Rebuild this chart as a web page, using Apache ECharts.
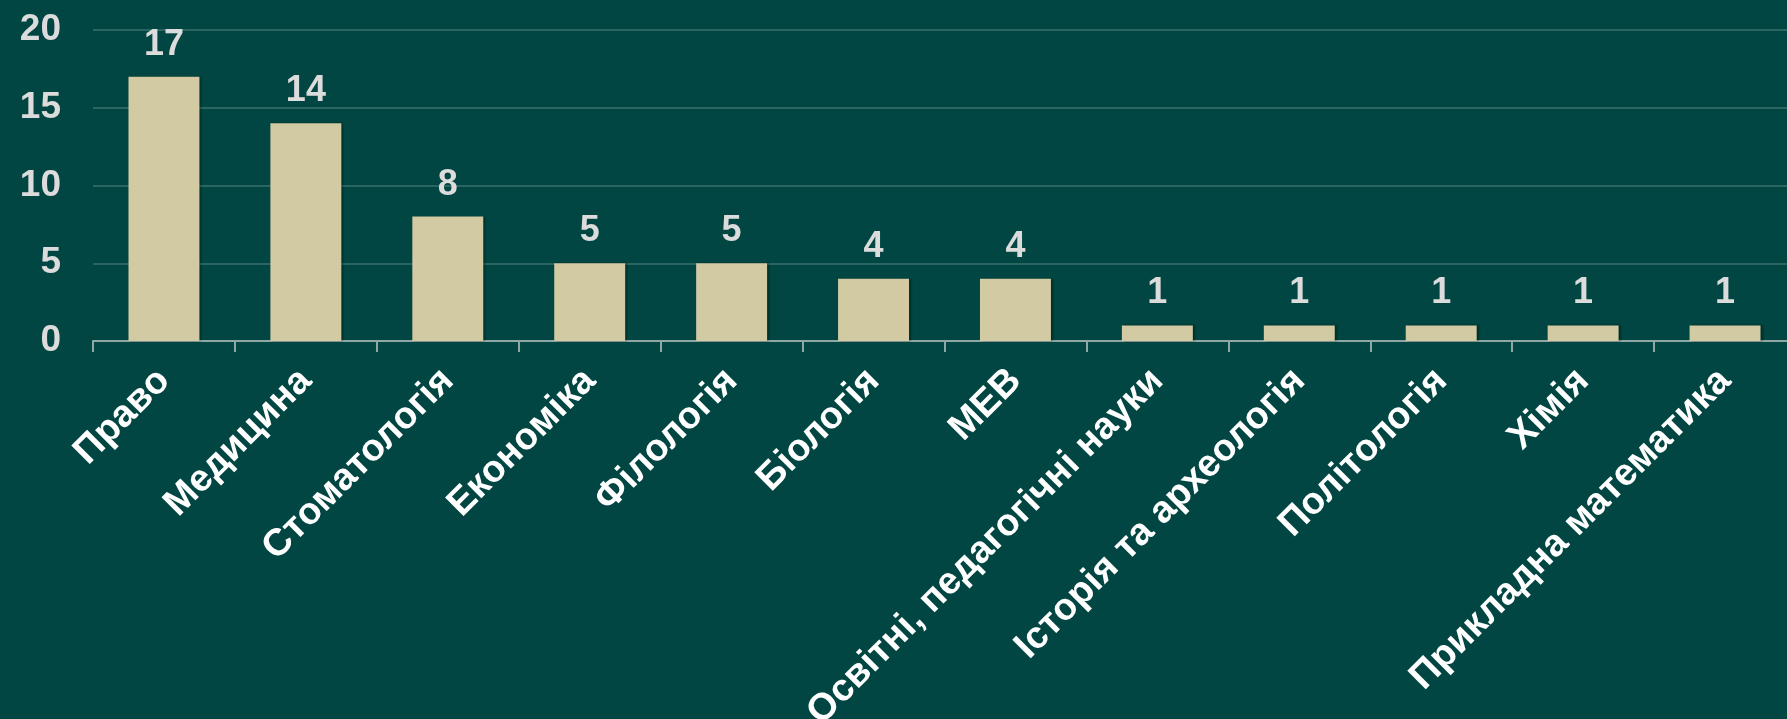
<!DOCTYPE html>
<html>
<head>
<meta charset="utf-8">
<script src="https://cdn.jsdelivr.net/npm/echarts@6/dist/echarts.min.js"></script>
<style>
html,body{margin:0;padding:0;background:#014642;}
#chart{width:1787px;height:719px;}
</style>
</head>
<body>
<div id="chart"></div>
<script>
var categories = ['Право','Медицина','Стоматологія','Економіка','Філологія','Біологія','МЕВ','Освітні, педагогічні науки','Історія та археологія','Політологія','Хімія','Прикладна математика'];
var values = [17,14,8,5,5,4,4,1,1,1,1,1];
var yTicks = {min:0, max:20, interval:5};

var chart = echarts.init(document.getElementById('chart'));
chart.setOption({
  backgroundColor:'#014642',
  animation:false,
  grid:{left:93,right:-9,top:30,bottom:378,containLabel:false,outerBoundsMode:'none'},
  xAxis:{
    type:'category',
    data:categories,
    axisLine:{lineStyle:{color:'#8fa8a5',width:2}},
    axisTick:{show:true,length:11,lineStyle:{color:'#8fa8a5',width:2}},
    axisLabel:{
      interval:0,rotate:45,margin:34,
      color:'#ffffff',fontFamily:'Liberation Sans, Arial, sans-serif',fontWeight:'bold',fontSize:38
    }
  },
  yAxis:{
    type:'value',
    min:yTicks.min,max:yTicks.max,interval:yTicks.interval,
    axisLine:{show:false},
    axisTick:{show:false},
    splitLine:{lineStyle:{color:'#2b6561',width:2}},
    axisLabel:{margin:32,color:'#dcdcdc',fontFamily:'Liberation Sans, Arial, sans-serif',fontWeight:'bold',fontSize:37}
  },
  series:[{
    type:'bar',
    data:values,
    barWidth:'50%',
    itemStyle:{color:'#d2caa3',shadowColor:'rgba(0,0,0,0.35)',shadowOffsetX:2,shadowBlur:2},
    label:{
      show:true,position:'top',distance:14,
      color:'#dcdcdc',fontFamily:'Liberation Sans, Arial, sans-serif',fontWeight:'bold',fontSize:36
    }
  }]
});
</script>
</body>
</html>
